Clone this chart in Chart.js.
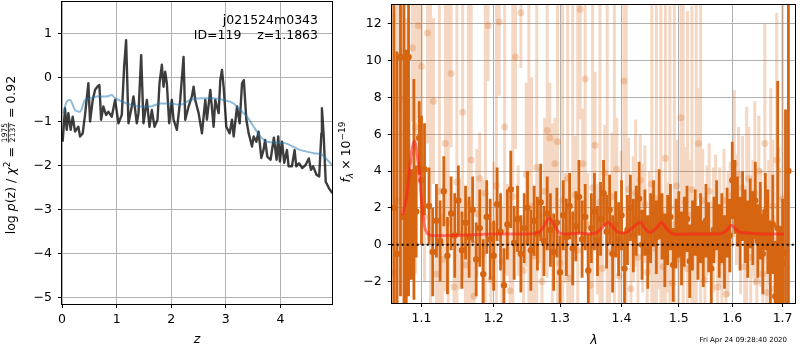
<!DOCTYPE html>
<html><head><meta charset="utf-8">
<script src="https://cdn.jsdelivr.net/npm/chart.js@4.4.1/dist/chart.umd.min.js"></script>
<style>
html,body{margin:0;padding:0;background:#fff;}
#wrap{position:relative;width:800px;height:350px;overflow:hidden;background:#fff;}
#c1{position:absolute;left:0;top:0;}
#c2{position:absolute;left:335px;top:0;}
</style></head><body>
<div id="wrap"><canvas id="c1" width="340" height="350"></canvas><canvas id="c2" width="465" height="350"></canvas></div>
<script>
// ---------- LEFT PANEL DATA: log p(z) ----------
const zTicks = [0, 1, 2, 3, 4];
const zTickLabels = ['0', '1', '2', '3', '4'];
const pzTicks = [-5, -4, -3, -2, -1, 0, 1];
const pzTickLabels = ['\u22125', '\u22124', '\u22123', '\u22122', '\u22121', '0', '1'];

const zLogp = [0.012,0.055,0.086,0.116,0.159,0.196,0.239,0.300,0.330,0.379,
0.422,0.483,0.514,0.563,0.606,0.648,0.685,0.716,0.758,0.807,
0.850,0.911,0.972,1.034,1.095,1.138,1.174,1.217,1.278,1.309,
1.370,1.401,1.450,1.492,1.554,1.602,1.645,1.694,1.749,1.786,
1.829,1.859,1.890,1.920,1.963,2.012,2.043,2.104,2.165,2.226,
2.257,2.318,2.379,2.410,2.440,2.502,2.563,2.624,2.654,2.716,
2.777,2.807,2.869,2.899,2.930,2.960,3.009,3.070,3.113,3.144,
3.205,3.254,3.297,3.330,3.376,3.419,3.480,3.510,3.560,3.600,
3.650,3.690,3.720,3.760,3.820,3.880,3.930,3.960,3.990,4.030,
4.070,4.120,4.150,4.210,4.260,4.290,4.340,4.400,4.460,4.520,
4.560,4.600,4.660,4.710,4.750,4.760,4.790,4.830,4.890,4.950];
const logp = [-1.45,-0.69,-1.18,-0.80,-1.18,-0.88,-1.22,-1.11,-1.33,-1.26,
-0.84,-0.12,-0.99,-0.50,-0.27,-0.20,-0.16,-0.95,-0.65,-0.84,
-0.77,-0.88,-0.50,-1.03,-0.84,0.26,0.86,-1.03,-0.65,-0.42,
-1.03,-0.80,0.52,-1.03,-0.50,-1.11,-0.73,-1.11,-0.95,-0.12,
0.30,-0.20,0.14,-0.12,-1.03,-0.50,-0.95,-1.18,-0.50,0.48,
-0.95,-0.65,-0.42,-0.20,-0.50,-0.80,-1.26,-0.50,-0.95,-0.27,
-1.11,-0.50,-0.80,-0.05,0.18,-0.20,-1.11,-1.26,-0.95,-1.33,
-0.65,-1.03,-0.12,-0.05,-0.95,-1.26,-1.56,-1.33,-1.45,-1.22,
-1.82,-1.64,-1.41,-1.79,-1.86,-1.36,-1.86,-1.33,-1.90,-1.45,
-1.93,-1.64,-2.01,-2.01,-1.64,-2.01,-1.94,-2.05,-1.98,-1.83,
-2.09,-2.01,-2.20,-2.24,-1.26,-0.69,-1.26,-2.36,-2.51,-2.62];

const zPrior = [0.024,0.086,0.147,0.239,0.330,0.422,0.514,0.636,0.820,0.911,0.972,1.187,1.431,1.615,1.798,1.982,2.165,2.349,2.532,2.777,2.960,3.144,3.266,3.388,3.511,3.633,3.755,4.061,4.367,4.612,4.765,4.887,4.960];
const logPrior = [-0.80,-0.54,-0.50,-0.73,-0.77,-0.50,-0.46,-0.42,-0.42,-0.39,-0.46,-0.58,-0.65,-0.65,-0.58,-0.58,-0.61,-0.50,-0.46,-0.46,-0.50,-0.58,-0.73,-0.88,-1.11,-1.33,-1.45,-1.48,-1.64,-1.71,-1.75,-1.90,-2.00];

// ---------- RIGHT PANEL DATA: spectrum ----------
const lamTicks = [1.1, 1.2, 1.3, 1.4, 1.5, 1.6, 1.7];
const lamTickLabels = ['1.1', '1.2', '1.3', '1.4', '1.5', '1.6', '1.7'];
const fluxTicks = [-2, 0, 2, 4, 6, 8, 10, 12];
const fluxTickLabels = ['\u22122', '0', '2', '4', '6', '8', '10', '12'];
const zeroLevel = 0;

// individual (unbinned) spectrum points
const lamRaw = [1.064,1.068,1.072,1.076,1.080,1.084,1.088,1.092,1.096,1.100,
1.104,1.108,1.112,1.116,1.120,1.124,1.128,1.132,1.136,1.140,
1.144,1.148,1.152,1.156,1.160,1.164,1.168,1.172,1.176,1.180,
1.184,1.188,1.192,1.196,1.200,1.204,1.208,1.212,1.216,1.220,
1.224,1.228,1.232,1.236,1.240,1.244,1.248,1.252,1.256,1.260,
1.264,1.268,1.272,1.276,1.280,1.284,1.288,1.292,1.296,1.300,
1.304,1.308,1.312,1.316,1.320,1.324,1.328,1.332,1.336,1.340,
1.344,1.348,1.352,1.356,1.360,1.364,1.368,1.372,1.376,1.380,
1.384,1.388,1.392,1.396,1.400,1.404,1.408,1.412,1.416,1.420,
1.424,1.428,1.432,1.436,1.440,1.444,1.448,1.452,1.456,1.460,
1.464,1.468,1.472,1.476,1.480,1.484,1.488,1.492,1.496,1.500,
1.504,1.508,1.512,1.516,1.520,1.524,1.528,1.532,1.536,1.540,
1.544,1.548,1.552,1.556,1.560,1.564,1.568,1.572,1.576,1.580,
1.584,1.588,1.592,1.596,1.600,1.604,1.608,1.612,1.616,1.620,
1.624,1.628,1.632,1.636,1.640,1.644,1.648,1.652,1.656,1.660,
1.664,1.668,1.672,1.676,1.680,1.684,1.688,1.692,1.696,1.700];
const fluxRaw = [-1.5,2.4,10.2,7.9,7.3,4.5,10.7,6.4,11.9,9.7,
1.5,11.5,0.4,7.8,-1.6,2.9,-0.8,5.5,1.2,9.3,
-2.3,3.4,0.6,7.2,-1.1,2.2,4.6,-2.8,1.7,3.6,
-0.5,2.8,11.9,-1.9,1.0,3.2,12.1,-0.9,6.4,0.8,
-2.5,2.6,10.2,1.3,12.6,-1.4,3.8,0.2,2.1,-0.6,
4.2,1.6,-2.0,2.9,6.2,5.8,0.6,4.4,5.6,-1.0,
2.4,0.9,3.6,-1.8,1.5,2.7,-0.3,12.8,4.4,9.0,
1.1,-2.2,3.1,5.4,0.3,2.3,-1.3,3.9,1.8,-0.4,
2.6,0.7,4.1,-1.7,1.9,8.9,0.2,3.0,-2.4,1.4,
2.8,-0.7,3.5,0.9,2.2,-1.5,1.2,3.3,-0.2,2.5,
0.6,1.8,-1.2,4.7,0.4,2.0,-2.1,1.1,3.2,-0.8,
6.9,0.5,2.3,-1.3,1.6,3.0,-0.4,1.7,5.5,0.1,
2.4,-1.9,1.3,2.9,-0.6,0.8,2.1,-2.3,1.0,-0.9,
2.4,-2.7,0.6,1.5,2.7,4.4,1.9,3.8,0.5,3.1,
-1.2,2.0,3.6,-0.7,1.4,2.8,-2.0,4.0,0.9,-1.6,
5.5,-2.6,1.2,-0.5,2.1,-2.4,4.6,0.3,-1.8,2.5];
const errRaw = [14,11,3.0,6.0,5.0,3.5,4.0,8.0,5.0,4.0,
3.5,6.0,13,4.5,3.0,11,2.5,8.0,12,4.0,
2.5,10,3.0,9.0,2.8,11,10,3.0,3.5,2.5,
4.0,11,3.0,2.8,3.5,10,4.0,3.0,8.0,2.5,
3.0,11,5.0,3.0,3.0,2.8,5.0,13,7.0,3.0,
9.0,2.6,3.4,4.0,8.0,3.0,6.0,2.5,9.0,3.2,
11,3.0,10,3.0,12,3.2,14,6.0,3.0,6.0,
2.8,3.0,10,4.0,3.0,11,3.0,2.6,12,3.0,
3.5,13,2.8,3.0,3.2,5.0,13,2.8,3.0,3.4,
4.0,3.0,2.5,3.5,3.2,3.0,2.8,10,3.0,11,
3.0,12,3.0,9.0,3.0,11,2.8,12,2.5,3.0,
7.0,13,3.0,14,3.0,10,3.0,12,3.0,13,
2.8,3.0,3.0,2.6,3.0,3.4,2.8,3.0,3.2,3.0,
2.8,3.0,3.4,3.0,2.8,4.0,3.0,2.6,3.2,2.8,
3.0,5.5,2.8,3.0,3.2,5.0,3.0,3.0,3.2,3.0,
6.5,3.2,3.4,9.0,3.6,4.0,8.0,5.0,6.0,12];

// binned spectrum points
const lamBin = [1.064,1.068,1.0725,1.077,1.080,1.083,1.0865,1.090,1.093,1.097,1.100,1.104,
1.110,1.115,1.120,1.125,1.130,1.135,1.140,1.145,1.150,1.155,
1.160,1.165,1.170,1.175,1.180,1.185,1.190,1.195,1.200,1.205,
1.210,1.215,1.220,1.225,1.230,1.235,1.240,1.245,1.250,1.255,
1.260,1.265,1.270,1.275,1.280,1.285,1.290,1.295,1.300,1.305,
1.310,1.315,1.320,1.325,1.330,1.335,1.340,1.345,1.350,1.355,
1.360,1.365,1.370,1.375,1.380,1.385,1.390,1.395,1.400,1.405,
1.410,1.415,1.420,1.425,1.430,1.435,1.440,1.445,1.450,1.455,
1.460,1.465,1.470,1.475,1.480,1.485,1.490,1.495,1.500,1.505,
1.510,1.515,1.520,1.525,1.530,1.535,1.540,1.545,1.550,1.555,
1.560,1.565,1.570,1.575,1.580,1.585,1.590,1.595,1.600,1.605,
1.610,1.615,1.620,1.625,1.630,1.635,1.640,1.645,1.650,1.655,
1.660,1.665,1.670,1.675,1.680,1.685,1.690,1.695,
1.700,1.706,1.712];
const fluxBin = [2.0,-0.5,10.2,1.5,-1.4,10.2,1.1,3.0,1.8,5.8,3.5,4.1,
2.1,-0.4,1.3,0.2,2.9,-0.6,1.7,0.5,2.4,-0.3,
1.2,0.4,1.9,-0.8,0.9,-1.6,1.5,0.3,-0.6,2.2,
0.7,-2.2,1.1,3.0,0.1,1.4,-0.5,0.9,2.0,-0.3,
1.3,0.6,2.3,0.2,1.7,0.8,-0.4,1.2,-1.5,1.6,
0.4,2.1,-0.2,1.0,2.6,0.3,1.5,-1.4,0.9,1.8,
0.2,1.4,2.8,0.7,1.9,-0.5,1.1,0.3,1.6,-1.3,
0.8,2.0,0.5,1.3,2.5,0.0,1.2,-0.4,0.9,1.7,
0.4,2.2,1.0,-0.3,0.8,1.5,-1.1,0.6,1.1,-0.2,
0.7,1.4,-0.9,0.5,1.2,0.1,0.9,-0.5,1.3,0.4,
-1.3,0.8,1.6,0.2,0.9,-0.4,1.2,0.5,3.5,2.6,
1.8,0.6,2.1,1.0,0.3,1.7,0.9,2.4,0.2,1.3,
-0.5,1.8,0.7,-1.2,1.1,-2.8,0.9,-3.0,
-1.0,-0.45,4.0];
const errBin = [16,11,13,12,12,13,3.0,6.0,2.5,2.0,3.5,2.5,
2.1,2.4,2.0,2.2,1.9,2.1,2.0,2.3,1.9,2.1,
2.0,2.2,1.8,2.0,2.1,1.9,2.0,2.2,1.9,2.0,
2.1,2.0,1.9,2.1,2.0,1.8,2.1,1.9,2.0,2.2,
1.9,2.0,2.1,1.9,2.0,2.0,2.1,1.9,2.0,1.9,
2.1,1.8,2.0,1.9,2.0,2.1,1.8,2.0,1.9,2.1,
1.9,2.0,1.8,2.0,1.9,2.1,1.8,2.0,1.9,2.0,
1.9,1.8,2.0,1.9,2.0,1.9,1.8,2.0,1.9,1.8,
2.0,1.9,1.8,2.0,1.9,1.8,2.0,1.9,1.8,2.0,
1.9,1.8,2.0,1.9,1.8,2.0,1.9,1.8,2.0,1.9,
2.0,1.8,1.9,2.0,1.9,2.0,1.9,2.0,2.1,2.0,
1.9,2.0,1.9,2.0,2.1,1.9,2.0,2.1,2.0,2.1,
2.2,2.1,2.3,2.5,2.7,3.0,8.0,4.0,
3.5,7.8,20];

// best-fit model
const lamModel = [1.075,1.080,1.084,1.088,1.091,1.094,1.097,1.100,1.104,1.108,
1.115,1.140,1.160,1.180,1.200,1.220,1.240,1.260,1.270,1.283,
1.290,1.300,1.330,1.356,1.367,1.378,1.387,1.395,1.410,1.420,
1.432,1.441,1.449,1.460,1.469,1.480,1.490,1.520,1.550,1.579,
1.590,1.599,1.608,1.617,1.650,1.680,1.703];
const fluxModel = [1.6,2.5,4.0,5.3,5.6,5.0,4.0,2.4,1.0,0.6,
0.5,0.5,0.52,0.55,0.58,0.58,0.58,0.6,0.75,1.45,
1.1,0.62,0.62,0.62,0.9,1.2,0.9,0.66,0.7,0.95,
1.2,0.85,0.66,0.9,1.2,0.8,0.58,0.58,0.58,0.6,
0.8,1.06,0.8,0.66,0.6,0.58,0.58];

// ---------- helpers ----------
const FONT = 'DejaVu Sans';
const zip = (xs, ys) => xs.map((x, i) => ({x: x, y: ys[i]}));
function errSegments(xs, ys, es) {
  const out = [];
  for (let i = 0; i < xs.length; i++) {
    out.push({x: xs[i], y: ys[i] - es[i]});
    out.push({x: xs[i], y: ys[i] + es[i]});
    out.push({x: xs[i], y: null});
  }
  return out;
}
function fixTicks(vals) { return (s) => { s.ticks = vals.map(v => ({value: v})); }; }
function fitY(w) { return (s) => { s.width = w; s.paddingTop = 0; s.paddingBottom = 0; }; }
function fitX(h) { return (s) => { s.height = h; s.paddingLeft = 0; s.paddingRight = 0; }; }

const boxPlugin = {
  id: 'box',
  afterDatasetsDraw(chart) {
    const a = chart.chartArea, c = chart.ctx;
    c.save();
    c.strokeStyle = '#000'; c.lineWidth = 1;
    const l = Math.round(a.left) - 0.5, t = Math.round(a.top) + 0.5;
    const r = Math.round(a.right) - 0.5, b = Math.round(a.bottom) + 0.5;
    c.strokeRect(l, t, r - l, b - t);
    c.restore();
  }
};

function drawParts(ctx, parts) {
  let w = 0;
  for (const p of parts) {
    if (p.gap) { p.w = p.gap; w += p.w; continue; }
    ctx.font = p.f;
    if (p.frac) p.w = Math.max(ctx.measureText(p.num).width, ctx.measureText(p.den).width) + 2;
    else p.w = ctx.measureText(p.t).width;
    w += p.w;
  }
  let x = -w / 2;
  for (const p of parts) {
    if (p.gap) { x += p.w; continue; }
    ctx.font = p.f;
    if (p.frac) {
      ctx.textAlign = 'center';
      ctx.fillText(p.num, x + p.w / 2, p.nd);
      ctx.fillText(p.den, x + p.w / 2, p.dd);
      ctx.fillRect(x + 0.5, p.bar, p.w - 1, 0.8);
      ctx.textAlign = 'left';
    } else {
      ctx.fillText(p.t, x, p.dy || 0);
    }
    x += p.w;
  }
}

const F = '12.5px "' + FONT + '"';
const FI = 'italic 12.5px "' + FONT + '"';
const FS = '9px "' + FONT + '"';

const leftText = {
  id: 'leftText',
  afterDraw(chart) {
    const c = chart.ctx;
    c.save();
    c.fillStyle = '#000';
    c.textBaseline = 'alphabetic';
    c.font = F; c.textAlign = 'right';
    c.fillText('j021524m0343', 318, 24);
    c.fillText('ID=119    z=1.1863', 318, 38.5);
    c.textAlign = 'center'; c.font = FI;
    c.fillText('z', 197, 343);
    c.translate(14.5, 155);
    c.rotate(-Math.PI / 2);
    c.textAlign = 'left';
    drawParts(c, [
      {t: 'log', f: F}, {gap: 4}, {t: 'p', f: FI}, {t: '(z)', f: F}, {gap: 4}, {t: '/', f: F}, {gap: 4},
      {t: '\u03c7', f: FI}, {t: '2', f: FS, dy: -5}, {gap: 4}, {t: '=', f: F}, {gap: 4},
      {frac: 1, num: '1975', den: '2137', f: '7.5px "' + FONT + '"', nd: -7.3, dd: 0, bar: -6.6},
      {gap: 4}, {t: '=', f: F}, {gap: 4}, {t: '0.92', f: F}
    ]);
    c.restore();
  }
};

const rightText = {
  id: 'rightText',
  afterDraw(chart) {
    const c = chart.ctx;
    c.save();
    c.fillStyle = '#000';
    c.textBaseline = 'alphabetic';
    c.textAlign = 'center'; c.font = FI;
    c.fillText('\u03bb', 594 - 335, 344);
    c.font = '7px "' + FONT + '"'; c.textAlign = 'right';
    c.fillText('Fri Apr 24 09:28:40 2020', 787 - 335, 342);
    c.translate(350 - 335, 152);
    c.rotate(-Math.PI / 2);
    c.textAlign = 'left';
    drawParts(c, [
      {t: 'f', f: FI}, {t: '\u03bb', f: 'italic 9px "' + FONT + '"', dy: 3}, {gap: 3},
      {t: '\u00d7', f: F}, {gap: 3}, {t: '10', f: F}, {t: '\u221219', f: FS, dy: -5}
    ]);
    c.restore();
  }
};

const gridOpts = {color: '#b0b0b0', lineWidth: 1, tickColor: '#000', tickLength: 4, drawTicks: true};
const tickFont = {family: FONT, size: 12.5};

// ---------- LEFT CHART ----------
new Chart(document.getElementById('c1'), {
  type: 'line',
  data: {
    datasets: [
      {data: zip(zPrior, logPrior), borderColor: 'rgba(31,119,180,0.5)', borderWidth: 2,
       pointRadius: 0, tension: 0.4, cubicInterpolationMode: 'monotone', fill: false},
      {data: zip(zLogp, logp), borderColor: 'rgba(0,0,0,0.76)', borderWidth: 2.4,
       pointRadius: 0, tension: 0, fill: false, borderJoinStyle: 'round'}
    ]
  },
  options: {
    responsive: false, animation: false, devicePixelRatio: 1,
    layout: {padding: {top: 1, right: 7, left: 0, bottom: 0}},
    plugins: {legend: {display: false}, tooltip: {enabled: false}},
    scales: {
      x: {type: 'linear', min: 0, max: 4.963,
          afterBuildTicks: fixTicks(zTicks),
          afterFit: fitX(46),
          grid: gridOpts, border: {display: false},
          ticks: {font: tickFont, color: '#000', padding: 4, maxRotation: 0, autoSkip: false,
                  callback: (v, i) => zTickLabels[i]}},
      y: {type: 'linear', min: -5.14, max: 1.75,
          afterBuildTicks: fixTicks(pzTicks),
          afterFit: fitY(62),
          grid: gridOpts, border: {display: false},
          ticks: {font: tickFont, color: '#000', padding: 6, autoSkip: false,
                  callback: (v, i) => pzTickLabels[i]}}
    }
  },
  plugins: [boxPlugin, leftText]
});

// ---------- RIGHT CHART ----------
const DARK = 'rgb(214,101,18)';
const LIGHT = 'rgba(214,101,18,0.25)';
const LAMMIN = 1.0612, LAMMAX = 1.7277;
new Chart(document.getElementById('c2'), {
  type: 'line',
  data: {
    datasets: [
      {data: [{x: LAMMIN, y: zeroLevel}, {x: LAMMAX, y: zeroLevel}], borderColor: '#000', borderWidth: 2,
       borderDash: [2, 3], pointRadius: 0, fill: false, clip: 0},
      {data: zip(lamModel, fluxModel), borderColor: 'rgba(255,25,25,0.55)', borderWidth: 3,
       pointRadius: 0, tension: 0.3, fill: false, clip: 0},
      {data: zip(lamBin, fluxBin), showLine: false, pointRadius: 3.2, pointBackgroundColor: DARK,
       pointBorderWidth: 0, clip: 0},
      {data: errSegments(lamBin, fluxBin, errBin), borderColor: DARK, borderWidth: 2.8,
       pointRadius: 0, spanGaps: false, fill: false, borderCapStyle: 'butt', clip: 0},
      {data: zip(lamRaw, fluxRaw), showLine: false, pointRadius: 3.5, pointBackgroundColor: LIGHT,
       pointBorderWidth: 0, clip: 0},
      {data: errSegments(lamRaw, fluxRaw, errRaw), borderColor: LIGHT, borderWidth: 3,
       pointRadius: 0, spanGaps: false, fill: false, borderCapStyle: 'butt', clip: 0}
    ]
  },
  options: {
    responsive: false, animation: false, devicePixelRatio: 1,
    layout: {padding: {top: 1, right: 1.5, left: 0, bottom: 0}},
    plugins: {legend: {display: false}, tooltip: {enabled: false}},
    scales: {
      x: {type: 'logarithmic', min: LAMMIN, max: LAMMAX,
          afterBuildTicks: fixTicks(lamTicks),
          afterFit: fitX(47),
          grid: gridOpts, border: {display: false},
          ticks: {font: tickFont, color: '#000', padding: 4, maxRotation: 0, autoSkip: false,
                  callback: (v, i) => lamTickLabels[i]}},
      y: {type: 'linear', min: -3.17, max: 13.08,
          afterBuildTicks: fixTicks(fluxTicks),
          afterFit: fitY(56.7),
          grid: gridOpts, border: {display: false},
          ticks: {font: tickFont, color: '#000', padding: 6, autoSkip: false,
                  callback: (v, i) => fluxTickLabels[i]}}
    }
  },
  plugins: [boxPlugin, rightText]
});
</script>
</body></html>
